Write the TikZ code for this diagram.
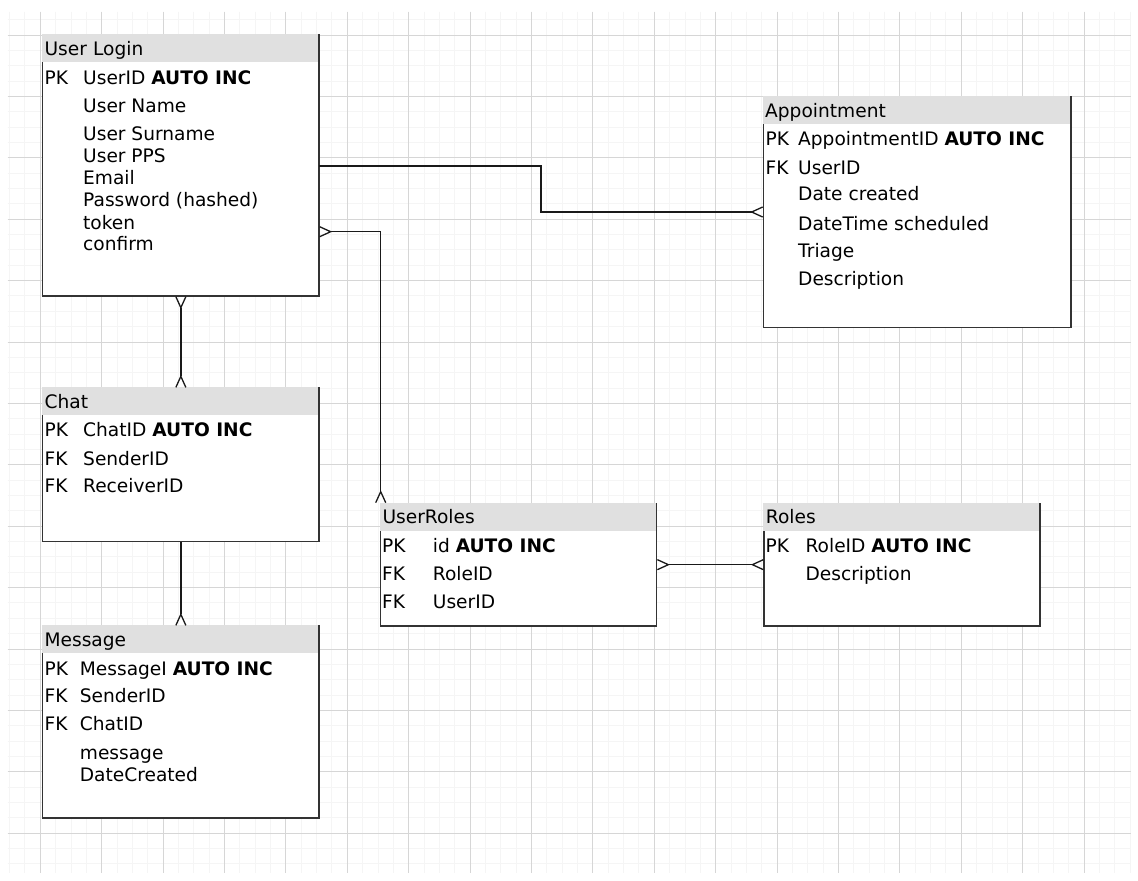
\documentclass[tikz,border=0pt]{standalone}
\usepackage{fontspec}
\setmainfont{DejaVu Sans}
\usetikzlibrary{arrows.meta,calc}
\tikzset{ent/.style={draw=black!80,line width=0.7pt,fill=white,anchor=north west,inner sep=0pt,outer sep=0pt},
	ent head/.style={fill=black!12,anchor=north west,outer sep=0pt,inner xsep=1.3pt,inner ysep=0pt,minimum height=14pt,text height=7pt,text depth=0pt,align=left},
	field/.style={anchor=base west,inner sep=0pt},
	crow/.tip={Straight Barb[reversed,length=5.5pt,width=5pt]},
	rel/.style={draw=black!90,line width=0.65pt},
	minor line/.style={draw=black!4,line width=0.5pt},
	major line/.style={draw=black!16,line width=0.5pt},
}

\begin{document}
\begin{tikzpicture}[x=0.5pt,y=-0.5pt,font=\fontsize{9.3}{11}\selectfont]
	\useasboundingbox (0,0) rectangle (1138,880);
	\fill[white] (0,0) rectangle (1138,880);
	% grid
	\foreach \i in {-2,...,71} \draw[minor line] (40.3+15.35*\i,11.7) -- (40.3+15.35*\i,873);
	\foreach \j in {-1,...,54} \draw[minor line] (7.5,35+15.35*\j) -- (1131,35+15.35*\j);
	\foreach \i in {0,...,17} \draw[major line] (40.3+61.4*\i,11.7) -- (40.3+61.4*\i,873);
	\foreach \j in {0,...,13} \draw[major line] (7.5,35+61.4*\j) -- (1131,35+61.4*\j);
	
	% tables
	\node[ent,minimum width=138.15pt,minimum height=130.5pt] (login) at (42.7,35) {};
	\node[ent head,text width=135.45pt] (login-h) at ([shift={(-0.35pt,0.35pt)}]login.north west) {User Login};
	\node[field] (login-pk) at (44.2,84) {PK};
	\node[field] (login-1) at (82.8,84) {UserID \textbf{AUTO INC}};
	\node[field] (login-2) at (82.8,112.7) {User Name};
	\node[field] (login-3) at (82.8,140) {User Surname};
	\node[field] (login-4) at (82.8,162.3) {User PPS};
	\node[field] (login-5) at (82.8,184.3) {Email};
	\node[field] (login-6) at (82.8,206.7) {Password (hashed)};
	\node[field] (login-7) at (82.8,229) {token};
	\node[field] (login-8) at (82.8,250.7) {confirm};
	
	\node[ent,minimum width=153.85pt,minimum height=115.3pt] (appt) at (763.3,96.7) {};
	\node[ent head,text width=151.15pt] (appt-h) at ([shift={(-0.35pt,0.35pt)}]appt.north west) {Appointment};
	\node[field] (appt-pk) at (765.2,145.7) {PK};
	\node[field] (appt-1) at (797.8,145.7) {AppointmentID \textbf{AUTO INC}};
	\node[field] (appt-fk) at (765.2,174) {FK};
	\node[field] (appt-2) at (797.8,174) {UserID};
	\node[field] (appt-3) at (797.8,200.7) {Date created};
	\node[field] (appt-4) at (797.8,230) {DateTime scheduled};
	\node[field] (appt-5) at (797.8,257.3) {Triage};
	\node[field] (appt-6) at (797.8,285.7) {Description};
	
	\node[ent,minimum width=138.15pt,minimum height=76.85pt] (chat) at (42.7,388) {};
	\node[ent head,text width=135.45pt] (chat-h) at ([shift={(-0.35pt,0.35pt)}]chat.north west) {Chat};
	\node[field] (chat-pk) at (44.2,436.7) {PK};
	\node[field] (chat-1) at (82.8,436.7) {ChatID \textbf{AUTO INC}};
	\node[field] (chat-fk1) at (44.2,465) {FK};
	\node[field] (chat-2) at (82.8,465) {SenderID};
	\node[field] (chat-fk2) at (44.2,492.7) {FK};
	\node[field] (chat-3) at (82.8,492.7) {ReceiverID};
	
	\node[ent,minimum width=138.15pt,minimum height=96pt] (msg) at (42.7,626) {};
	\node[ent head,text width=135.45pt] (msg-h) at ([shift={(-0.35pt,0.35pt)}]msg.north west) {Message};
	\node[field] (msg-pk) at (44.2,675.7) {PK};
	\node[field] (msg-1) at (79.5,675.7) {MessageI \textbf{AUTO INC}};
	\node[field] (msg-fk1) at (44.2,702.7) {FK};
	\node[field] (msg-2) at (79.5,702.7) {SenderID};
	\node[field] (msg-fk2) at (44.2,730.7) {FK};
	\node[field] (msg-3) at (79.5,730.7) {ChatID};
	\node[field] (msg-4) at (79.5,759.3) {message};
	\node[field] (msg-5) at (79.5,781.7) {DateCreated};
	
	\node[ent,minimum width=138pt,minimum height=61.35pt] (ur) at (380.7,503.3) {};
	\node[ent head,text width=135.3pt] (ur-h) at ([shift={(-0.35pt,0.35pt)}]ur.north west) {UserRoles};
	\node[field] (ur-pk) at (381.8,552.7) {PK};
	\node[field] (ur-1) at (432.5,552.7) {id \textbf{AUTO INC}};
	\node[field] (ur-fk1) at (381.8,580.7) {FK};
	\node[field] (ur-2) at (432.5,580.7) {RoleID};
	\node[field] (ur-fk2) at (381.8,608.3) {FK};
	\node[field] (ur-3) at (432.5,608.3) {UserID};
	
	\node[ent,minimum width=138pt,minimum height=61.35pt] (roles) at (764,503.3) {};
	\node[ent head,text width=135.3pt] (roles-h) at ([shift={(-0.35pt,0.35pt)}]roles.north west) {Roles};
	\node[field] (roles-pk) at (765.2,552.7) {PK};
	\node[field] (roles-1) at (805.2,552.7) {RoleID \textbf{AUTO INC}};
	\node[field] (roles-2) at (805.2,580) {Description};
	
	% relations
	\draw[rel,-{crow}] ($(login.north east)+(0,131)$) -- ++(222,0) |- ($(appt.north west)+(0,115.3)$);
	\draw[rel,{crow}-{crow}] ($(login.north east)+(0,196.7)$) -| (ur.north west);
	\draw[rel,{crow}-{crow}] (login.south) -- (chat.north);
	\draw[rel,-{crow}] (chat.south) -- (msg.north);
	\draw[rel,{crow}-{crow}] (ur.east) -- (roles.west);
\end{tikzpicture}
\end{document}
